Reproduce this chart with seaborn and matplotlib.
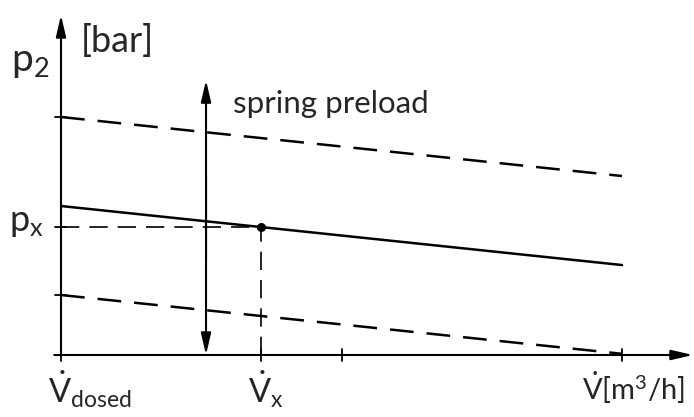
import matplotlib
matplotlib.use("Agg")
import matplotlib.pyplot as plt
import seaborn as sns
import pandas as pd

# --- data (schematic units) ---
flow = [0.0, 10.0]                 # V_dosed ... V_max
p_upper = [10.0, 7.52]             # upper dashed limit
p_nominal = [6.26, 3.78]           # solid characteristic
p_lower = [2.52, 0.05]             # lower dashed limit
x_point = 3.565                    # V_x
y_point = 5.376                    # p_x
x_ticks = [0.0, 3.565, 5.0, 10.0]
y_ticks = [10.0, 5.376, 2.52]
arrow_x = 2.585
arrow_y = [0.0, 11.55]

sns.set_style("white")
plt.rcParams['font.family'] = ['Lato', 'DejaVu Sans']
plt.rcParams['mathtext.fontset'] = 'custom'
plt.rcParams['mathtext.rm'] = 'Lato'
plt.rcParams['mathtext.it'] = 'Lato:italic'

fig = plt.figure(figsize=(6.94, 4.17), dpi=100)
W, H = 694, 417
x0, x1 = 61, 693
ytop, ybot = 15, 355
ax = fig.add_axes([x0 / W, 1 - ybot / H, (x1 - x0) / W, (ybot - ytop) / H])
xmax = (x1 - x0) / 56.1
ymax = (ybot - ytop) / 23.8
ax.set_xlim(0, xmax)
ax.set_ylim(0, ymax)
ax.axis("off")

df = pd.DataFrame({"flow": flow * 3,
                   "p": p_upper + p_nominal + p_lower,
                   "curve": ["upper"] * 2 + ["nominal"] * 2 + ["lower"] * 2})
dash = (0, (9.5, 5.2))
for name, ls in [("upper", dash), ("nominal", "-"), ("lower", dash)]:
    sub = df[df["curve"] == name]
    sns.lineplot(data=sub, x="flow", y="p", ax=ax, color="black",
                 lw=1.8, linestyle=ls, legend=False)

# helper dashed lines to point
hdash = (0, (11, 6))
ax.plot([0, x_point], [y_point, y_point], color="black", lw=1.2, ls=hdash)
ax.plot([x_point, x_point], [0, y_point], color="black", lw=1.2, ls=hdash)
ax.plot([x_point], [y_point], "o", color="black", ms=5.5)

# axes with arrows
arrowprops = dict(arrowstyle="-|>,head_length=1.3,head_width=0.3", color="black", lw=1.5,
                  shrinkA=0, shrinkB=0)
ax.annotate("", xy=(0, ymax), xytext=(0, -0.05), arrowprops=arrowprops, annotation_clip=False)
ax.annotate("", xy=(xmax, 0), xytext=(-0.12, 0), arrowprops=arrowprops, annotation_clip=False)

# ticks
for xt in x_ticks:
    ax.plot([xt, xt], [-0.25, 0.25], color="black", lw=1.3, clip_on=False)
for yt in y_ticks:
    ax.plot([-0.11, 0.09], [yt, yt], color="black", lw=1.3, clip_on=False)

# spring preload double arrow
ax.annotate("", xy=(arrow_x, arrow_y[1]), xytext=(arrow_x, arrow_y[0] + 4),
            arrowprops=arrowprops, annotation_clip=False)
ax.annotate("", xy=(arrow_x, arrow_y[0]), xytext=(arrow_x, arrow_y[1] - 4),
            arrowprops=arrowprops, annotation_clip=False)

ax.text(3.07, 10.55, "spring preload", fontsize=22.5, ha="left", va="center")
ax.text(0.36, 13.2, "[bar]", fontsize=26, ha="left", va="center")
ax.text(-0.55, 12.3, r"$\mathrm{p}_{\mathrm{2}}$", fontsize=28, ha="center", va="center")
ax.text(-0.62, 5.55, r"$\mathrm{p}_{\mathrm{x}}$", fontsize=26, ha="center", va="center")
ax.text(-0.24, -0.6, r"$\dot{\mathrm{V}}_{\mathrm{dosed}}$", fontsize=23.5, ha="left", va="top")
ax.text(3.33, -0.6, r"$\dot{\mathrm{V}}_{\mathrm{x}}$", fontsize=23.5, ha="left", va="top")
ax.text(9.28, -0.6, r"$\dot{\mathrm{V}}[\mathrm{m}^3/\mathrm{h}]$", fontsize=21, ha="left", va="top")

fig.savefig("out.png", dpi=100)
